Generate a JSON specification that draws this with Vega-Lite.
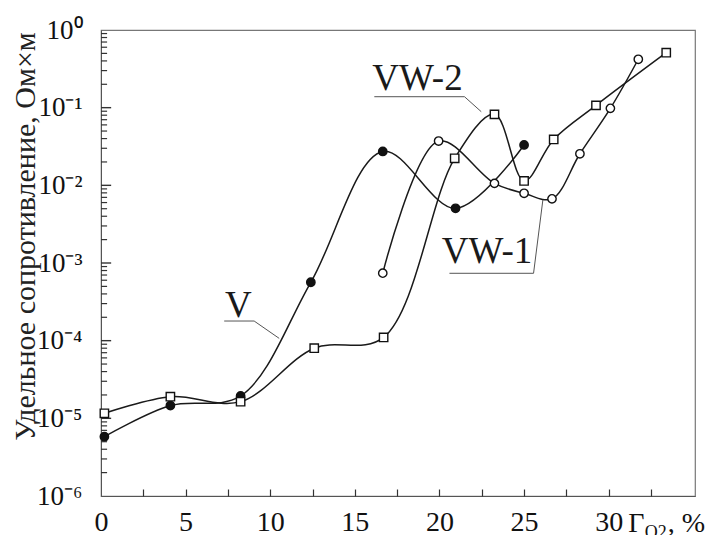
{
  "$schema": "https://vega.github.io/schema/vega-lite/v6.json",
  "autosize": {"type": "none"},
  "width": 594,
  "height": 466,
  "padding": {"left": 101, "top": 30, "right": 33, "bottom": 39},
  "background": "white",
  "config": {
    "view": {"stroke": "#777", "strokeWidth": 1.2},
    "font": "Liberation Serif",
    "axis": {"labelFont": "Liberation Serif", "titleFont": "Liberation Serif", "labelColor": "#111", "titleColor": "#222", "domainColor": "#555", "tickColor": "#333", "grid": false}
  },
  "resolve": {"axis": {"x": "independent", "y": "independent"}},
  "datasets": {
    "series": [
      {"series": "V", "x": 0.2, "y": 5.8e-6},
      {"series": "V", "x": 4.1, "y": 1.46e-5},
      {"series": "V", "x": 8.25, "y": 1.94e-5},
      {"series": "V", "x": 12.4, "y": 5.65e-4},
      {"series": "V", "x": 16.65, "y": 2.73e-2},
      {"series": "V", "x": 20.95, "y": 5.06e-3},
      {"series": "V", "x": 25.0, "y": 3.31e-2},
      {"series": "VW-1", "x": 16.65, "y": 7.4e-4},
      {"series": "VW-1", "x": 19.95, "y": 3.72e-2},
      {"series": "VW-1", "x": 23.25, "y": 1.06e-2},
      {"series": "VW-1", "x": 25.0, "y": 7.9e-3},
      {"series": "VW-1", "x": 26.65, "y": 6.7e-3},
      {"series": "VW-1", "x": 28.3, "y": 2.55e-2},
      {"series": "VW-1", "x": 30.1, "y": 9.8e-2},
      {"series": "VW-1", "x": 31.75, "y": 0.42},
      {"series": "VW-2", "x": 0.2, "y": 1.16e-5},
      {"series": "VW-2", "x": 4.1, "y": 1.9e-5},
      {"series": "VW-2", "x": 8.25, "y": 1.64e-5},
      {"series": "VW-2", "x": 12.6, "y": 8.0e-5},
      {"series": "VW-2", "x": 16.7, "y": 1.1e-4},
      {"series": "VW-2", "x": 20.9, "y": 2.23e-2},
      {"series": "VW-2", "x": 23.25, "y": 8.2e-2},
      {"series": "VW-2", "x": 25.0, "y": 1.14e-2},
      {"series": "VW-2", "x": 26.75, "y": 3.9e-2},
      {"series": "VW-2", "x": 29.25, "y": 0.107},
      {"series": "VW-2", "x": 33.4, "y": 0.51}
    ],
    "leaders": [
      {"id": "V", "x": 7.28, "y": 1.79e-4},
      {"id": "V", "x": 9.05, "y": 1.79e-4},
      {"id": "V", "x": 10.53, "y": 1.07e-4},
      {"id": "VW-2", "x": 16.15, "y": 0.1384},
      {"id": "VW-2", "x": 21.48, "y": 0.1384},
      {"id": "VW-2", "x": 22.47, "y": 0.0887},
      {"id": "VW-1", "x": 20.59, "y": 7.37e-4},
      {"id": "VW-1", "x": 25.56, "y": 7.37e-4},
      {"id": "VW-1", "x": 26.11, "y": 6.48e-3}
    ],
    "labels": [
      {"label": "V", "x": 8.11, "y": 2.04e-4},
      {"label": "VW-2", "x": 18.7, "y": 0.1689},
      {"label": "VW-1", "x": 22.81, "y": 9.9e-4}
    ],
    "minorTicks": [
      {"v": 2e-6}, {"v": 3e-6}, {"v": 4e-6}, {"v": 5e-6}, {"v": 6e-6}, {"v": 7e-6}, {"v": 8e-6}, {"v": 9e-6},
      {"v": 2e-5}, {"v": 3e-5}, {"v": 4e-5}, {"v": 5e-5}, {"v": 6e-5}, {"v": 7e-5}, {"v": 8e-5}, {"v": 9e-5},
      {"v": 2e-4}, {"v": 3e-4}, {"v": 4e-4}, {"v": 5e-4}, {"v": 6e-4}, {"v": 7e-4}, {"v": 8e-4}, {"v": 9e-4},
      {"v": 2e-3}, {"v": 3e-3}, {"v": 4e-3}, {"v": 5e-3}, {"v": 6e-3}, {"v": 7e-3}, {"v": 8e-3}, {"v": 9e-3},
      {"v": 2e-2}, {"v": 3e-2}, {"v": 4e-2}, {"v": 5e-2}, {"v": 6e-2}, {"v": 7e-2}, {"v": 8e-2}, {"v": 9e-2},
      {"v": 0.2}, {"v": 0.3}, {"v": 0.4}, {"v": 0.5}, {"v": 0.6}, {"v": 0.7}, {"v": 0.8}, {"v": 0.9}
    ],
    "majorTicks": [
      {"v": 1e-5}, {"v": 1e-4}, {"v": 1e-3}, {"v": 1e-2}, {"v": 0.1}
    ],
    "xtitle": [
      {"part": "Г", "x": 31.63, "y": 3.45e-7}
    ],
    "xsub": [
      {"part": "O2", "x": 32.13, "y": 2.85e-7}
    ],
    "xunit": [
      {"part": ", %", "x": 33.49, "y": 3.45e-7}
    ]
  },
  "layer": [
    {
      "data": {"name": "series"},
      "mark": {"type": "line", "interpolate": "catmull-rom", "color": "#1a1a1a", "strokeWidth": 1.5},
      "encoding": {
        "x": {
          "field": "x", "type": "quantitative",
          "scale": {"domain": [0, 35.1], "nice": false, "zero": false},
          "axis": {
            "title": null,
            "orient": "bottom",
            "values": [0, 5, 10, 15, 20, 25, 30],
            "labelFontSize": 28,
            "labelPadding": 12,
            "ticks": false,
            "labelFlush": false
          }
        },
        "y": {
          "field": "y", "type": "quantitative",
          "scale": {"type": "log", "domain": [1e-6, 1], "nice": false},
          "axis": {
            "orient": "left",
            "title": "Удельное сопротивление, Ом×м",
            "titleFontSize": 30,
            "titleFontWeight": "normal",
            "titleAngle": -90,
            "titleAlign": "center",
            "titleBaseline": "middle",
            "titleX": -76,
            "titleY": 206,
            "values": [1e-6, 1e-5, 1e-4, 1e-3, 1e-2, 0.1, 1],
            "labelExpr": "round(log(datum.value)/LN10) == 0 ? '10⁰' : '10⁻' + ['⁰','¹','²','³','⁴','⁵','⁶'][round(-log(datum.value)/LN10)]",
            "labelFontSize": 27,
            "labelPadding": 19,
            "ticks": false,
            "labelFlush": false,
            "labelOverlap": false
          }
        },
        "detail": {"field": "series"}
      }
    },
    {
      "data": {"name": "minorTicks"},
      "mark": {"type": "rule", "color": "#333", "strokeWidth": 1.2},
      "encoding": {
        "y": {"field": "v", "type": "quantitative", "axis": null},
        "x": {"datum": 0, "type": "quantitative", "axis": null},
        "x2": {"datum": 0.36}
      }
    },
    {
      "data": {"name": "majorTicks"},
      "mark": {"type": "rule", "color": "#333", "strokeWidth": 1.4},
      "encoding": {
        "y": {"field": "v", "type": "quantitative", "axis": null},
        "x": {"datum": 0, "type": "quantitative", "axis": null},
        "x2": {"datum": 0.6}
      }
    },
    {
      "data": {"name": "leaders"},
      "mark": {"type": "line", "color": "#555", "strokeWidth": 1},
      "encoding": {
        "x": {
          "field": "x", "type": "quantitative",
          "axis": {
            "orient": "top", "offset": -466, "title": null, "labels": false, "domain": false,
            "values": [2.5, 5, 7.5, 10, 12.5, 15, 17.5, 20, 22.5, 25, 27.5, 30, 32.5],
            "tickSize": 7, "tickColor": "#333", "tickWidth": 1.2
          }
        },
        "y": {"field": "y", "type": "quantitative", "axis": null},
        "detail": {"field": "id"}
      }
    },
    {
      "data": {"name": "series"},
      "mark": {"type": "point", "filled": false, "stroke": "#111", "strokeWidth": 1.4, "opacity": 1},
      "encoding": {
        "x": {"field": "x", "type": "quantitative", "axis": null},
        "y": {"field": "y", "type": "quantitative", "axis": null},
        "shape": {"field": "series", "type": "nominal", "scale": {"domain": ["V", "VW-1", "VW-2"], "range": ["circle", "circle", "square"]}, "legend": null},
        "fill": {"field": "series", "type": "nominal", "scale": {"domain": ["V", "VW-1", "VW-2"], "range": ["#111111", "#ffffff", "#ffffff"]}, "legend": null},
        "size": {"field": "series", "type": "nominal", "scale": {"domain": ["V", "VW-1", "VW-2"], "range": [70, 70, 85]}, "legend": null}
      }
    },
    {
      "data": {"name": "labels"},
      "mark": {"type": "text", "font": "Liberation Serif", "fontSize": 37, "align": "center", "baseline": "alphabetic", "color": "#1a1a1a"},
      "encoding": {
        "x": {"field": "x", "type": "quantitative", "axis": null},
        "y": {"field": "y", "type": "quantitative", "axis": null},
        "text": {"field": "label"}
      }
    },
    {
      "data": {"name": "xtitle"},
      "mark": {"type": "text", "font": "Liberation Serif", "fontSize": 28, "align": "center", "baseline": "alphabetic", "color": "#111"},
      "encoding": {
        "x": {"field": "x", "type": "quantitative", "axis": null},
        "y": {"field": "y", "type": "quantitative", "axis": null},
        "text": {"field": "part"}
      }
    },
    {
      "data": {"name": "xsub"},
      "mark": {"type": "text", "font": "Liberation Serif", "fontSize": 18, "align": "left", "baseline": "alphabetic", "color": "#111"},
      "encoding": {
        "x": {"field": "x", "type": "quantitative", "axis": null},
        "y": {"field": "y", "type": "quantitative", "axis": null},
        "text": {"field": "part"}
      }
    },
    {
      "data": {"name": "xunit"},
      "mark": {"type": "text", "font": "Liberation Serif", "fontSize": 28, "align": "left", "baseline": "alphabetic", "color": "#111"},
      "encoding": {
        "x": {"field": "x", "type": "quantitative", "axis": null},
        "y": {"field": "y", "type": "quantitative", "axis": null},
        "text": {"field": "part"}
      }
    }
  ]
}
